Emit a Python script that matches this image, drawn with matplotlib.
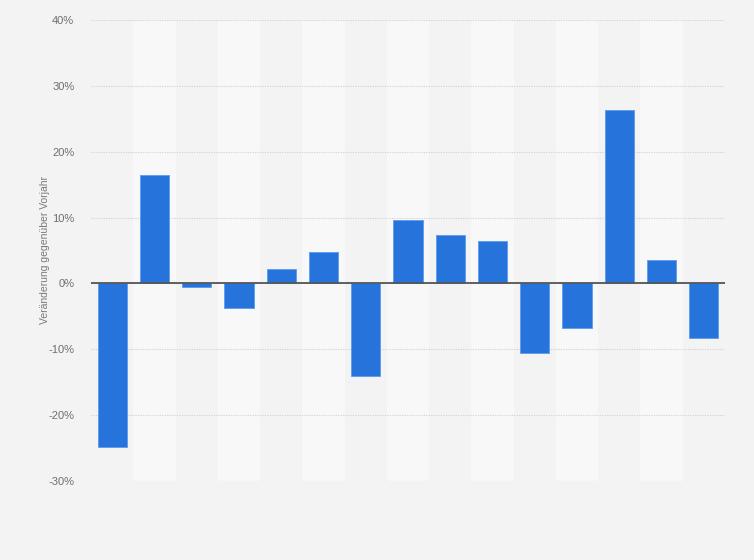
import matplotlib.pyplot as plt
import matplotlib.ticker as mticker

plt.rcParams['font.family'] = ['Liberation Sans', 'DejaVu Sans']

# Veränderung gegenüber Vorjahr in Prozent (Kategorien ohne sichtbare Beschriftung)
categories = [str(i) for i in range(1, 16)]
values = [-24.9, 16.4, -0.5, -3.8, 2.2, 4.8, -14.0, 9.6, 7.4, 6.5,
          -10.6, -6.8, 26.4, 3.6, -8.3]
y_ticks = [-30, -20, -10, 0, 10, 20, 30, 40]

bg = '#f3f3f3'
band = '#f8f8f8'
bar_color = '#2673dc'

fig = plt.figure(figsize=(7.54, 5.6), dpi=100, facecolor=bg)
ax = fig.add_axes([0.1207, 0.1411, 0.8408, 0.8232])
ax.set_facecolor(bg)

x = list(range(len(categories)))

# Alternating column bands
for i in x:
    if i % 2 == 1:
        ax.axvspan(i - 0.5, i + 0.5, color=band, zorder=0, lw=0)

ax.bar(x, values, width=0.69, color=bar_color, zorder=3,
       edgecolor='#5b9bef', linewidth=0.6)
ax.axhline(0, color='#555555', linewidth=1.3, zorder=4)

ax.set_xlim(-0.5, len(categories) - 0.5)
ax.set_ylim(-30, 40)
ax.set_yticks(y_ticks)
ax.yaxis.set_major_formatter(mticker.FuncFormatter(lambda v, p: f'{v:.0f}%'))
ax.set_xticks([])

ax.grid(axis='y', linestyle=(0, (1, 1.2)), color='#d0d0d0', linewidth=0.8, zorder=1)
for s in ax.spines.values():
    s.set_visible(False)
ax.tick_params(axis='y', length=0, pad=12, labelsize=8, labelcolor='#6e6e6e')

ax.set_ylabel('Veränderung gegenüber Vorjahr', fontsize=7.5, color='#7a7a7a', labelpad=-1)

fig.savefig('out.png', dpi=100, facecolor=bg)
